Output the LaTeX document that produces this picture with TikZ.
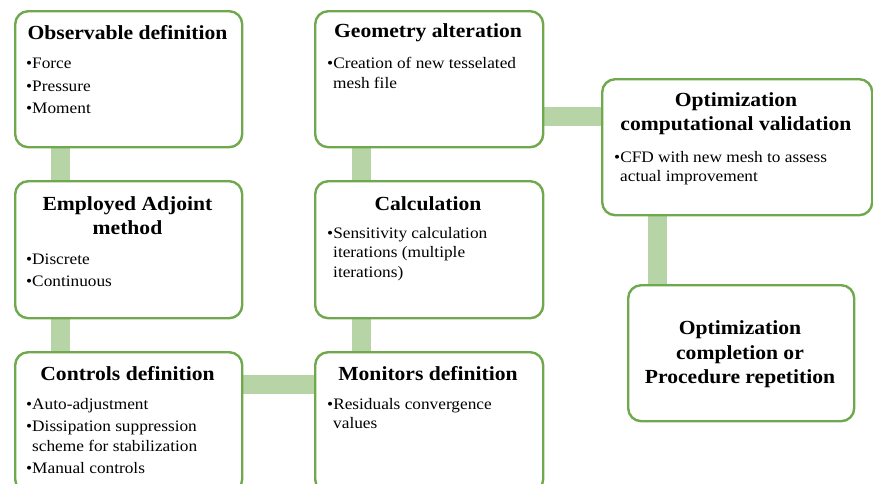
\documentclass[tikz,border=0pt]{standalone}
\usepackage{fontspec}
\setmainfont[FakeStretch=1.08]{Liberation Serif}
\usetikzlibrary{backgrounds}
\definecolor{bord}{RGB}{112,168,78}
\definecolor{conn}{RGB}{182,212,165}
\newcommand{\cont}{\hspace*{6pt}}
\tikzset{
  box/.style={draw=bord, line width=2.4pt, rounded corners=13pt, fill=white, anchor=north west, inner sep=0pt},
  ttl/.style={font=\bfseries\fontsize{20}{24.5}\selectfont, align=center, inner sep=0pt},
  blt/.style={font=\fontsize{16}{19.5}\selectfont, align=left, anchor=north west, inner sep=0pt},
  link/.style={draw=conn, line width=19pt}
}
\begin{document}
\begin{tikzpicture}[x=1pt,y=-1pt]
\useasboundingbox (0,0) rectangle (873,483);
\clip (0,0) rectangle (873,483);
% boxes
\node[box, minimum width=227pt, minimum height=136pt] (obs) at (14,10) {};
\node[box, minimum width=227pt, minimum height=137pt] (adj) at (14,180) {};
\node[box, minimum width=227pt, minimum height=140pt] (ctrl) at (14,351) {};
\node[box, minimum width=228pt, minimum height=136pt] (geo) at (314,10) {};
\node[box, minimum width=228pt, minimum height=137pt] (calc) at (314,180) {};
\node[box, minimum width=228pt, minimum height=140pt] (mon) at (314,351) {};
\node[box, minimum width=270pt, minimum height=136pt] (val) at (601,78) {};
\node[box, minimum width=226pt, minimum height=136pt] (fin) at (627,284) {};
% connectors
\begin{scope}[on background layer]
\draw[link] ([xshift=46pt]obs.south west) -- ([xshift=46pt]adj.north west);
\draw[link] ([xshift=46pt]adj.south west) -- ([xshift=46pt]ctrl.north west);
\draw[link] ([yshift=-33pt]ctrl.north east) -- ([yshift=-33pt]mon.north west);
\draw[link] ([xshift=47pt]mon.north west) -- ([xshift=47pt]calc.south west);
\draw[link] ([xshift=47pt]calc.north west) -- ([xshift=47pt]geo.south west);
\draw[link] ([yshift=-106pt]geo.north east) -- ([yshift=-38pt]val.north west);
\draw[link] ([xshift=56pt]val.south west) -- ([xshift=30pt]fin.north west);
\end{scope}
% titles
\node[ttl] (obsT) at (127.5,33) {Observable definition};
\node[ttl] (adjT) at (127.5,215.5) {Employed Adjoint\\method};
\node[ttl] (ctrlT) at (127.5,374) {Controls definition};
\node[ttl] (geoT) at (428,33) {Geometry alteration};
\node[ttl] (calcT) at (428,204) {Calculation};
\node[ttl] (monT) at (428,374) {Monitors definition};
\node[ttl] (valT) at (736,113.5) {Optimization\\computational validation};
\node[ttl] (finT) at (740,354.5) {Optimization\\completion or\\Procedure repetition};
% bullets
\node[blt] (obsB) at (26,58) {•Force\\[3pt]•Pressure\\[3pt]•Moment};
\node[blt] (adjB) at (26,253.5) {•Discrete\\[3pt]•Continuous};
\node[blt] (ctrlB) at (26,398) {•Auto-adjustment\\[3pt]•Dissipation suppression\\\cont scheme for stabilization\\[3pt]•Manual controls};
\node[blt] (geoB) at (327,57.5) {•Creation of new tesselated\\\cont mesh file};
\node[blt] (calcB) at (327,227) {•Sensitivity calculation\\\cont iterations (multiple\\\cont iterations)};
\node[blt] (monB) at (327,398) {•Residuals convergence\\\cont values};
\node[blt] (valB) at (614,151) {•CFD with new mesh to assess\\\cont actual improvement};
\end{tikzpicture}
\end{document}
